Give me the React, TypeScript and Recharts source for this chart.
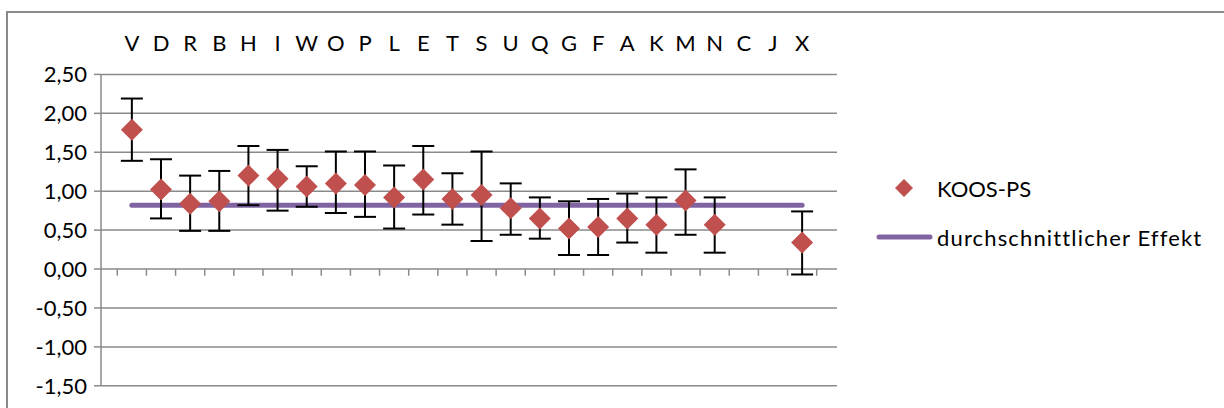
import React from 'react';
import {
  ComposedChart,
  Scatter,
  Line,
  XAxis,
  YAxis,
  CartesianGrid,
  ErrorBar,
  ReferenceLine,
  Legend,
} from 'recharts';

const categories = ['V', 'D', 'R', 'B', 'H', 'I', 'W', 'O', 'P', 'L', 'E', 'T', 'S', 'U', 'Q', 'G', 'F', 'A', 'K', 'M', 'N', 'C', 'J', 'X'];
const koosPs: (number | null)[] = [1.79, 1.02, 0.84, 0.87, 1.2, 1.16, 1.06, 1.1, 1.08, 0.92, 1.15, 0.9, 0.95, 0.78, 0.65, 0.52, 0.54, 0.65, 0.57, 0.88, 0.57, null, null, 0.34];
const ciLower: (number | null)[] = [1.39, 0.65, 0.49, 0.49, 0.82, 0.75, 0.8, 0.72, 0.67, 0.52, 0.7, 0.57, 0.36, 0.44, 0.39, 0.18, 0.18, 0.34, 0.21, 0.44, 0.21, null, null, -0.07];
const ciUpper: (number | null)[] = [2.19, 1.41, 1.2, 1.26, 1.58, 1.53, 1.32, 1.51, 1.51, 1.33, 1.58, 1.23, 1.51, 1.1, 0.92, 0.87, 0.9, 0.97, 0.92, 1.28, 0.92, null, null, 0.74];
const averageEffect = 0.82;
const yTicks = [-1.5, -1, -0.5, 0, 0.5, 1, 1.5, 2, 2.5];

const FONT = 'Lato, "Open Sans", sans-serif';
const GRID = '#8a8a8a';
const RED = '#C0504D';
const PURPLE = '#8064A2';

const rows = categories.map((c, i) => ({
  x: i + 1,
  cat: c,
  avg: averageEffect,
}));

const pointRows = categories
  .map((c, i) => ({
    x: i + 1,
    cat: c,
    value: koosPs[i],
    err: koosPs[i] == null ? null : [
      (koosPs[i] as number) - (ciLower[i] as number),
      (ciUpper[i] as number) - (koosPs[i] as number),
    ],
  }))
  .filter((r) => r.value != null);

const boundaries = [...categories.map((_, i) => i + 0.5), categories.length + 0.5];

const Diamond = (props: any) => {
  const { cx, cy } = props;
  if (cx == null || cy == null) return null;
  const r = 11;
  return (
    <polygon
      points={`${cx},${cy - r} ${cx + r},${cy} ${cx},${cy + r} ${cx - r},${cy}`}
      fill={RED}
    />
  );
};

const LegendContent = () => (
  <svg width={350} height={100} style={{ display: 'block' }}>
    <polygon points="44,19 53,28 44,37 35,28" fill={RED} />
    <text x={77} y={28} dominantBaseline="central" fontFamily={FONT} fontSize={22} fill="#000">
      KOOS-PS
    </text>
    <line x1={19} y1={77} x2={70} y2={77} stroke={PURPLE} strokeWidth={5} strokeLinecap="round" />
    <text x={77} y={77} dominantBaseline="central" fontFamily={FONT} fontSize={22} letterSpacing={1.15} fill="#000">
      durchschnittlicher Effekt
    </text>
  </svg>
);

const fmt = (v: number) => v.toFixed(2).replace('.', ',');

export default function App() {
  return (
    <div style={{ position: 'fixed', left: 0, top: 0, width: 1224, height: 408, background: '#fff', overflow: 'hidden' }}>
      <div
        style={{
          position: 'absolute',
          left: 6,
          top: 11,
          width: 1240,
          height: 420,
          borderLeft: `2px solid ${GRID}`,
          borderTop: `2px solid ${GRID}`,
          boxSizing: 'border-box',
        }}
      />
      <div style={{ position: 'absolute', left: 0, top: 0 }}>
        <ComposedChart
          width={1224}
          height={408}
          data={rows}
          margin={{ top: 34.4, right: 387, bottom: 22.2, left: 41 }}
        >
          <CartesianGrid vertical={false} stroke={GRID} strokeWidth={1.5} />
          <XAxis
            xAxisId="top"
            orientation="top"
            type="number"
            dataKey="x"
            domain={[-0.059, 25.197]}
            allowDataOverflow
            ticks={categories.map((_, i) => i + 1)}
            interval={0}
            tickFormatter={(v: number) => categories[v - 1] ?? ''}
            axisLine={false}
            tickLine={false}
            tickSize={0}
            tickMargin={23}
            height={40}
            tick={{ fill: '#000', fontFamily: FONT, fontSize: 22 }}
          />
          <YAxis
            type="number"
            domain={[-1.5, 2.5]}
            ticks={yTicks}
            interval={0}
            allowDataOverflow
            width={60}
            tickFormatter={fmt}
            axisLine={{ stroke: GRID, strokeWidth: 1.5 }}
            tickLine={{ stroke: GRID, strokeWidth: 1.5 }}
            tickSize={7}
            tickMargin={7}
            tick={{ fill: '#000', fontFamily: FONT, fontSize: 22 }}
          />
          {boundaries.map((b) => (
            <ReferenceLine
              key={b}
              xAxisId="top"
              segment={[{ x: b, y: 0 }, { x: b, y: -0.086 }]}
              stroke={GRID}
              strokeWidth={1.5}
              ifOverflow="visible"
            />
          ))}
          <Line
            xAxisId="top"
            dataKey="avg"
            name="durchschnittlicher Effekt"
            stroke={PURPLE}
            strokeWidth={5}
            strokeLinecap="round"
            dot={false}
            activeDot={false}
            isAnimationActive={false}
          />
          <Scatter
            xAxisId="top"
            data={pointRows}
            dataKey="value"
            name="KOOS-PS"
            fill={RED}
            shape={<Diamond />}
            isAnimationActive={false}
          >
            <ErrorBar dataKey="err" direction="y" width={11} stroke="#000" strokeWidth={2} isAnimationActive={false} />
          </Scatter>
          <Legend
            layout="vertical"
            align="center"
            verticalAlign="middle"
            content={<LegendContent />}
            wrapperStyle={{ left: 860, top: 160, width: 350, height: 100 }}
          />
        </ComposedChart>
      </div>
    </div>
  );
}
